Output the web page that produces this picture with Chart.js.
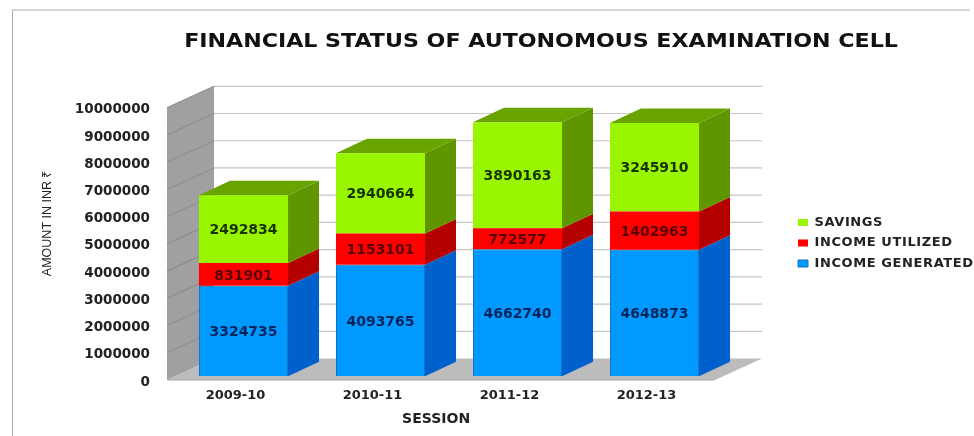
<!DOCTYPE html>
<html>
<head>
<meta charset="utf-8">
<title>Financial status</title>
<script src="https://cdn.jsdelivr.net/npm/chart.js@4"></script>
<style>
    html, body { margin: 0; padding: 0; background: #fff; overflow: hidden; }
    canvas { display: block; }
</style>
</head>
<body>
<canvas id="financeChart" width="974" height="436"></canvas>
<script>
var sessions = ['2009-10', '2010-11', '2011-12', '2012-13'];
var incomeGenerated = [3324735, 4093765, 4662740, 4648873];
var incomeUtilized = [831901, 1153101, 772577, 1402963];
var savings = [2492834, 2940664, 3890163, 3245910];

var frontColors = ['#0099ff', '#ff0000', '#99f500'];
var sideColors = ['#0060cc', '#b50000', '#5f9600'];
var labelColors = ['#06245a', '#560404', '#163300'];
var topColor = '#68a300';

var mainFont = '"DejaVu Sans", sans-serif';

// the 3d look, all in pixels
var wallDx = 47, wallDy = -21.5;
var wallShiftY = -2; // tick text sits a bit high, so the plot is 2px lower and the walls go back up
var barDx = 31, barDy = -14.5;
var barShiftX = 8, barShiftY = -5.8;

function poly(ctx, pts, color) {
    ctx.fillStyle = color;
    ctx.beginPath();
    ctx.moveTo(pts[0][0], pts[0][1]);
    for (var i = 1; i < pts.length; i++) {
        ctx.lineTo(pts[i][0], pts[i][1]);
    }
    ctx.closePath();
    ctx.fill();
}

var fakeThreeD = {
    id: 'fakeThreeD',
    afterInit: function (chart) {
        // reference text is stretched sideways
        var titleDraw = chart.titleBlock.draw;
        chart.titleBlock.draw = function () {
            var c = chart.ctx;
            c.save();
            c.translate(541, 0);
            c.scale(1.165, 1);
            c.translate(-541, 0);
            titleDraw.apply(this, arguments);
            c.restore();
        };
        var legendDraw = chart.legend.draw;
        chart.legend.draw = function () {
            chart.ctx.letterSpacing = '0.6px';
            legendDraw.apply(this, arguments);
            chart.ctx.letterSpacing = '0px';
        };
    },
    afterLayout: function (chart) {
        // title sits over the plot + legend, legend sits right of the back wall
        chart.titleBlock.left = 185;
        chart.titleBlock.right = 897;
        chart.legend.left = 790.5;
        chart.legend.right = 974;
        chart.legend.top = 208.5;
        chart.legend.bottom = 300;
    },
    beforeDatasetsDraw: function (chart) {
        var ctx = chart.ctx;
        var area = chart.chartArea;
        var yScale = chart.scales.y;

        ctx.save();

        // page frame
        ctx.strokeStyle = '#aaaaaa';
        ctx.lineWidth = 1;
        ctx.beginPath();
        ctx.moveTo(12.5, 436);
        ctx.lineTo(12.5, 10);
        ctx.lineTo(970, 10);
        ctx.stroke();

        ctx.translate(0, wallShiftY);

        // side wall and floor
        poly(ctx, [[area.left, area.top], [area.left + wallDx, area.top + wallDy],
            [area.left + wallDx, area.bottom + wallDy], [area.left, area.bottom]], '#a0a0a0');
        poly(ctx, [[area.left, area.bottom], [area.right, area.bottom],
            [area.right + wallDx, area.bottom + wallDy], [area.left + wallDx, area.bottom + wallDy]], '#bcbcbc');

        // gridlines, back wall + side wall
        yScale.ticks.forEach(function (tick, i) {
            var y = yScale.getPixelForTick(i);
            if (i > 0) {
                ctx.strokeStyle = '#c6c6c6';
                ctx.lineWidth = 1.2;
                ctx.beginPath();
                ctx.moveTo(area.left + wallDx, y + wallDy);
                ctx.lineTo(area.right + wallDx, y + wallDy);
                ctx.stroke();
                ctx.strokeStyle = '#8e8e8e';
                ctx.beginPath();
                ctx.moveTo(area.left, y);
                ctx.lineTo(area.left + wallDx, y + wallDy);
                ctx.stroke();
            }
        });
        ctx.strokeStyle = '#a8a8a8';
        ctx.lineWidth = 1.2;
        ctx.beginPath();
        ctx.moveTo(area.left, area.bottom);
        ctx.lineTo(area.right, area.bottom);
        ctx.stroke();
        ctx.restore();

        // side and top faces of the bars
        ctx.save();
        ctx.translate(barShiftX, barShiftY);
        chart.data.datasets.forEach(function (ds, d) {
            chart.getDatasetMeta(d).data.forEach(function (bar) {
                var l = bar.x - bar.width / 2;
                var r = bar.x + bar.width / 2;
                poly(ctx, [[r, bar.y], [r + barDx, bar.y + barDy], [r + barDx, bar.base + barDy], [r, bar.base]], sideColors[d]);
                if (d === chart.data.datasets.length - 1) {
                    poly(ctx, [[l, bar.y], [l + barDx, bar.y + barDy], [r + barDx, bar.y + barDy], [r, bar.y]], topColor);
                }
            });
        });
        ctx.restore();

        // front faces are the real bars, shift them with the rest
        ctx.save();
        ctx.translate(barShiftX, barShiftY);
    },
    afterDatasetsDraw: function (chart) {
        var ctx = chart.ctx;
        ctx.restore();

        ctx.save();
        ctx.translate(barShiftX, barShiftY);
        ctx.font = 'bold 14px ' + mainFont;
        ctx.textAlign = 'center';
        ctx.textBaseline = 'middle';
        chart.data.datasets.forEach(function (ds, d) {
            chart.getDatasetMeta(d).data.forEach(function (bar, i) {
                ctx.fillStyle = labelColors[d];
                ctx.fillText(ds.data[i], bar.x, (bar.y + bar.base) / 2 + 1.5);
            });
        });
        ctx.restore();
    }
};

var ctx = document.getElementById('financeChart').getContext('2d');

new Chart(ctx, {
    type: 'bar',
    data: {
        labels: sessions,
        datasets: [
            { label: 'INCOME GENERATED', data: incomeGenerated, backgroundColor: frontColors[0], borderColor: '#1177c4', borderWidth: 1 },
            { label: 'INCOME UTILIZED', data: incomeUtilized, backgroundColor: frontColors[1] },
            { label: 'SAVINGS', data: savings, backgroundColor: frontColors[2] }
        ]
    },
    options: {
        responsive: false,
        animation: false,
        layout: { padding: { left: 0, top: 0, right: 259, bottom: 0 } },
        datasets: { bar: { barPercentage: 0.65, categoryPercentage: 1 } },
        plugins: {
            title: {
                display: true,
                text: 'FINANCIAL STATUS OF AUTONOMOUS EXAMINATION CELL',
                color: '#111111',
                font: { family: mainFont, size: 19, weight: 'bold' },
                padding: { top: 30.5, bottom: 56.5 }
            },
            legend: {
                display: true,
                position: 'chartArea',
                align: 'start',
                reverse: true,
                labels: {
                    boxWidth: 10,
                    boxHeight: 7,
                    padding: 7.5,
                    color: '#222222',
                    font: { family: mainFont, size: 13, weight: 'bold' }
                }
            },
            tooltip: { enabled: false }
        },
        scales: {
            x: {
                stacked: true,
                grid: { display: false },
                border: { display: false },
                afterFit: function (scale) { scale.height = 54; },
                ticks: {
                    color: '#222222',
                    padding: -2,
                    maxRotation: 0,
                    font: { family: mainFont, size: 13, weight: 'bold' }
                },
                title: {
                    display: true,
                    // trailing spaces nudge it left of centre
                    text: 'SESSION\u00a0\u00a0',
                    color: '#222222',
                    padding: { top: 0, bottom: 8 },
                    font: { family: mainFont, size: 14, weight: 'bold' }
                }
            },
            y: {
                stacked: true,
                min: 0,
                max: 10000000,
                afterFit: function (scale) { scale.width = 167; },
                grid: { display: false },
                border: { display: false },
                ticks: {
                    stepSize: 1000000,
                    color: '#222222',
                    padding: 9,
                    font: { family: mainFont, size: 13.5, weight: 'bold' },
                    callback: function (value) { return String(value); }
                },
                title: {
                    display: true,
                    // leading spaces push the centred text up the axis
                    text: '\u00a0\u00a0\u00a0\u00a0\u00a0\u00a0\u00a0\u00a0\u00a0\u00a0\u00a0\u00a0\u00a0AMOUNT IN INR \u20b9',
                    color: '#222222',
                    padding: { top: 40, bottom: 0 },
                    font: { family: '"Liberation Sans Narrow", "Liberation Sans", sans-serif', size: 12.5 }
                }
            }
        }
    },
    plugins: [fakeThreeD]
});
</script>
</body>
</html>
